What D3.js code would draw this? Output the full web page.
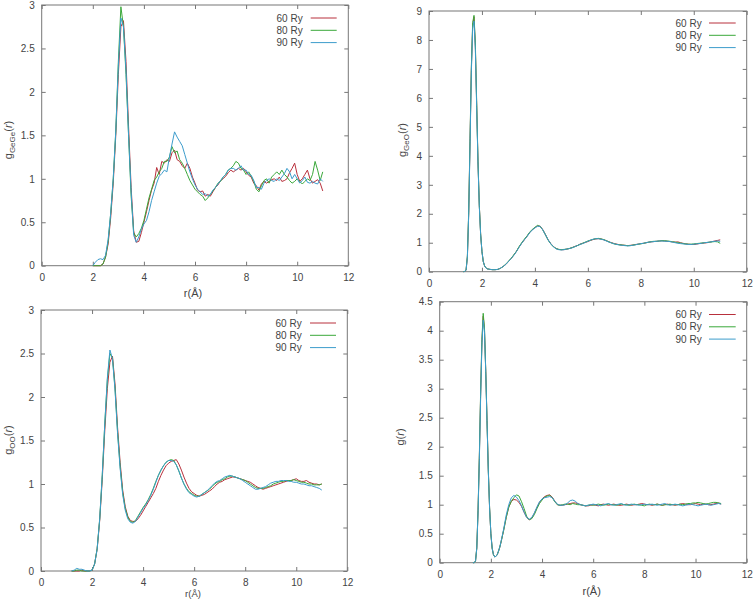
<!DOCTYPE html>
<html><head><meta charset="utf-8">
<script src="https://cdn.jsdelivr.net/npm/d3@7"></script>
<style>
html,body{margin:0;padding:0;background:#fff;}
text{font-family:"Liberation Sans",Arial,sans-serif;}
</style></head>
<body>
<svg id="chart" width="755" height="599"></svg>
<script>
// ---------- DATA ----------
const seriesNames = ["60 Ry", "80 Ry", "90 Ry"];
const seriesColors = ["#b8303c", "#3aa83a", "#3c9ccc"];

// Panel A: g_GeGe(r), r = 2.0 .. 11.0 step 0.1
const rGeGe = d3.range(20, 111).map(d => d / 10);
const geGe60 = [0,0,0,0,0.02,0.1,0.25,0.55,0.95,1.5,2.2,2.75,2.82,2.35,1.6,0.9,0.4,0.27,0.28,0.38,
 0.5,0.62,0.75,0.87,0.95,1.13,1.05,1.2,1.18,1.22,1.2,1.3,1.33,1.22,1.2,1.15,1.12,1.18,1.12,1.02,
 0.95,0.87,0.85,0.86,0.8,0.82,0.8,0.85,0.9,0.93,0.98,1.0,1.03,1.07,1.1,1.08,1.1,1.12,1.1,1.12,
 1.08,1.04,1.02,0.95,0.92,0.87,0.94,0.97,0.95,0.97,0.99,1.0,0.98,1.02,0.97,0.98,1.0,1.07,1.12,1.18,
 1.05,0.97,1.0,1.05,1.1,1.0,0.95,0.97,0.99,0.95,0.86];
const geGe80 = [0,0,0,0,0.02,0.1,0.28,0.6,1.0,1.55,2.35,2.98,2.75,2.2,1.5,0.8,0.38,0.33,0.37,0.43,
 0.52,0.65,0.78,0.88,0.98,1.02,1.08,1.12,1.2,1.2,1.25,1.37,1.3,1.32,1.22,1.18,1.12,1.05,0.98,0.93,
 0.88,0.85,0.82,0.8,0.75,0.78,0.82,0.86,0.9,0.95,0.97,1.02,1.05,1.1,1.12,1.15,1.2,1.18,1.12,1.1,
 1.05,1.08,1.03,0.97,0.88,0.85,0.92,0.98,1.0,0.95,1.02,1.05,1.08,1.05,1.1,1.05,1.02,0.98,0.95,0.97,
 1.0,0.97,0.94,0.97,1.0,0.98,1.05,1.2,1.1,0.98,1.08];
const geGe90 = [0,0.04,0.07,0.08,0.07,0.12,0.3,0.6,1.0,1.55,2.3,2.85,2.75,2.25,1.5,0.85,0.35,0.27,0.33,0.42,
 0.48,0.52,0.62,0.75,0.85,0.95,1.03,1.06,1.1,1.08,1.25,1.4,1.54,1.48,1.43,1.38,1.28,1.18,1.08,1.0,
 0.93,0.88,0.85,0.82,0.83,0.8,0.82,0.87,0.9,0.94,0.98,1.02,1.05,1.1,1.12,1.12,1.1,1.12,1.15,1.1,
 1.1,1.05,1.04,0.98,0.9,0.9,0.88,0.95,0.98,1.0,0.98,0.97,1.0,0.98,1.02,1.06,1.12,1.08,1.0,1.05,
 1.0,0.95,0.98,1.02,0.96,0.95,0.97,0.95,0.94,1.0,0.97];

// Panel B: g_GeO(r)
const rGeO = d3.range(130, 230, 5).map(d => d / 100).concat(d3.range(23, 111).map(d => d / 10));
const geO60 = [0,0.01,0.05,0.5,2.0,4.5,7.0,8.5,8.8,7.8,5.8,3.8,2.3,1.3,0.7,0.35,0.2,0.13,0.1,0.09,
 0.08,0.07,0.07,0.08,0.12,0.18,0.25,0.35,0.45,0.57,0.7,0.85,0.98,1.1,1.22,1.35,1.45,1.52,1.58,1.57,
 1.45,1.28,1.1,0.97,0.87,0.8,0.77,0.76,0.76,0.78,0.8,0.83,0.87,0.9,0.95,0.98,1.01,1.04,1.08,1.11,
 1.13,1.14,1.13,1.1,1.07,1.03,1.0,0.97,0.95,0.93,0.92,0.91,0.9,0.91,0.92,0.94,0.95,0.97,0.98,1.0,
 1.02,1.03,1.04,1.05,1.06,1.07,1.06,1.05,1.04,1.03,1.02,1.03,1.0,0.98,0.96,0.95,0.94,0.94,0.95,0.97,
 0.98,0.99,1.0,1.02,1.04,1.06,1.08,1.1];
const geO80 = [0,0.01,0.06,0.55,2.1,4.6,7.1,8.6,8.85,7.9,5.9,3.85,2.3,1.3,0.7,0.35,0.2,0.13,0.1,0.09,
 0.08,0.07,0.07,0.08,0.12,0.18,0.26,0.36,0.46,0.58,0.7,0.86,1.0,1.12,1.23,1.36,1.46,1.53,1.6,1.56,
 1.44,1.27,1.09,0.96,0.86,0.8,0.77,0.76,0.77,0.78,0.8,0.83,0.86,0.9,0.94,0.98,1.02,1.06,1.09,1.12,
 1.14,1.15,1.13,1.11,1.07,1.03,0.99,0.96,0.94,0.93,0.92,0.91,0.9,0.9,0.92,0.93,0.95,0.96,0.98,1.0,
 1.02,1.04,1.05,1.05,1.06,1.07,1.07,1.06,1.05,1.03,1.02,1.0,0.99,0.97,0.96,0.95,0.95,0.96,0.97,0.98,
 0.99,1.0,1.01,1.02,1.03,1.04,1.03,0.98];
const geO90 = [0,0.01,0.05,0.5,2.0,4.4,6.9,8.4,8.65,7.7,5.7,3.75,2.25,1.28,0.7,0.35,0.2,0.13,0.1,0.09,
 0.08,0.07,0.07,0.08,0.12,0.18,0.25,0.35,0.45,0.56,0.69,0.84,0.98,1.1,1.21,1.34,1.44,1.51,1.57,1.56,
 1.44,1.27,1.1,0.96,0.86,0.79,0.76,0.75,0.76,0.78,0.8,0.82,0.86,0.9,0.94,0.97,1.01,1.05,1.09,1.12,
 1.14,1.14,1.12,1.1,1.06,1.02,0.99,0.96,0.94,0.92,0.91,0.9,0.89,0.9,0.91,0.93,0.95,0.97,0.98,1.0,
 1.02,1.03,1.04,1.05,1.06,1.06,1.05,1.05,1.04,1.02,1.0,0.98,0.97,0.96,0.95,0.94,0.94,0.95,0.96,0.97,
 0.98,1.0,1.01,1.02,1.04,1.05,1.06,1.05];

// Panel C: g_OO(r), r = 1.2 .. 11.0 step 0.1
const rOO = d3.range(12, 111).map(d => d / 10);
const oo60 = [0,0,0,0,0.01,0,0,0,0.01,0.08,0.25,0.58,1.05,1.62,2.1,2.4,2.47,2.15,1.65,1.25,
 0.93,0.74,0.63,0.58,0.57,0.57,0.6,0.64,0.69,0.74,0.79,0.84,0.89,0.95,1.03,1.1,1.16,1.21,1.24,1.26,
 1.27,1.28,1.23,1.16,1.08,1.01,0.95,0.91,0.89,0.87,0.86,0.87,0.88,0.9,0.92,0.94,0.97,1.0,1.02,1.03,
 1.05,1.06,1.07,1.08,1.08,1.07,1.06,1.05,1.04,1.03,1.02,1.0,0.98,0.96,0.95,0.94,0.95,0.96,0.97,0.98,
 0.99,1.0,1.01,1.02,1.03,1.04,1.04,1.05,1.06,1.04,1.03,1.03,1.04,1.02,1.01,1.0,1.0,0.99,1.0];
const oo80 = [0,0,0.01,0.01,0,0,0,0,0.01,0.08,0.26,0.6,1.1,1.7,2.2,2.5,2.45,2.1,1.6,1.2,
 0.9,0.72,0.62,0.57,0.56,0.58,0.63,0.68,0.73,0.77,0.82,0.88,0.95,1.03,1.1,1.16,1.21,1.25,1.27,1.28,
 1.27,1.22,1.15,1.07,1.0,0.95,0.91,0.89,0.87,0.86,0.86,0.88,0.9,0.92,0.94,0.97,1.0,1.02,1.03,1.05,
 1.06,1.08,1.09,1.09,1.08,1.07,1.06,1.05,1.04,1.02,1.0,0.98,0.96,0.95,0.95,0.95,0.96,0.97,0.98,1.0,
 1.01,1.02,1.03,1.03,1.04,1.04,1.04,1.05,1.04,1.03,1.02,1.02,1.01,1.0,1.0,0.99,0.99,0.99,1.0];
const oo90 = [0,0.01,0.03,0.02,0.02,0.01,0,0,0.01,0.08,0.25,0.6,1.1,1.7,2.22,2.54,2.44,2.08,1.58,1.18,
 0.88,0.7,0.6,0.56,0.55,0.57,0.62,0.67,0.72,0.76,0.81,0.87,0.94,1.02,1.1,1.16,1.21,1.25,1.27,1.27,
 1.26,1.22,1.15,1.07,1.0,0.94,0.9,0.88,0.86,0.85,0.86,0.88,0.9,0.92,0.95,0.98,1.01,1.03,1.04,1.06,
 1.08,1.09,1.1,1.09,1.08,1.07,1.06,1.04,1.02,1.0,0.98,0.96,0.94,0.94,0.95,0.96,0.97,0.99,1.01,1.02,
 1.03,1.03,1.04,1.04,1.04,1.03,1.03,1.02,1.02,1.01,1.0,1.0,0.99,0.98,0.98,0.97,0.96,0.95,0.93];

// Panel D: total g(r)
const rTot = d3.range(130, 240, 5).map(d => d / 100).concat(d3.range(24, 111).map(d => d / 10));
const tot60 = [0,0,0.03,0.25,0.9,1.8,2.9,3.8,4.25,4.02,3.3,2.45,1.6,0.95,0.5,0.25,0.14,0.1,0.11,0.14,
 0.2,0.27,0.36,0.56,0.78,0.96,1.06,1.09,1.08,1.04,0.97,0.87,0.78,0.74,0.77,0.85,0.95,1.04,1.1,1.14,
 1.16,1.17,1.13,1.06,1.0,0.99,0.99,1.0,1.01,1.02,1.03,1.03,1.02,1.0,0.99,0.98,0.98,0.99,1.0,0.99,
 0.98,1.0,1.01,1.0,0.99,1.0,1.01,1.0,0.99,0.99,1.0,1.01,1.0,0.99,1.0,1.0,1.01,1.02,1.01,1.0,
 1.0,0.99,1.0,1.01,1.0,0.99,1.0,1.01,1.0,1.0,0.99,1.0,1.01,1.02,1.01,1.0,1.0,1.01,1.02,1.01,1.0,
 1.01,1.01,1.0,1.0,1.01,1.02,1.03,1.01,1.0];
const tot80 = [0,0,0.03,0.26,0.92,1.85,2.95,3.85,4.3,4.05,3.3,2.45,1.6,0.95,0.5,0.25,0.14,0.1,0.11,0.14,
 0.2,0.27,0.36,0.56,0.78,0.96,1.06,1.12,1.17,1.15,1.05,0.93,0.8,0.74,0.76,0.83,0.93,1.02,1.08,1.13,
 1.15,1.16,1.12,1.05,1.0,0.99,1.0,1.01,1.01,1.0,1.02,1.01,1.0,1.0,0.99,0.98,0.99,1.0,0.99,1.0,
 1.01,1.0,0.99,1.0,1.01,1.0,1.0,0.99,1.0,1.01,1.0,1.0,0.99,1.0,1.01,1.0,1.0,0.99,0.98,1.0,
 1.01,1.0,1.0,1.01,1.0,0.99,1.0,1.0,1.01,1.0,1.0,1.0,1.01,1.0,1.01,1.02,1.02,1.03,1.03,1.04,1.03,
 1.02,1.01,1.02,1.03,1.04,1.04,1.03,1.02,1.02];
const tot90 = [0,0,0.03,0.25,0.88,1.78,2.85,3.75,4.18,3.98,3.28,2.42,1.58,0.94,0.5,0.25,0.14,0.1,0.11,0.14,
 0.2,0.27,0.37,0.58,0.82,1.0,1.12,1.16,1.13,1.07,0.98,0.87,0.78,0.75,0.78,0.86,0.96,1.05,1.1,1.12,
 1.13,1.14,1.12,1.06,1.01,0.99,0.99,1.0,1.03,1.07,1.08,1.06,1.02,1.0,0.99,0.98,0.99,1.0,1.01,1.0,
 0.99,0.98,1.0,1.01,1.02,1.0,0.99,1.0,1.01,1.02,1.0,0.99,1.0,1.01,1.0,1.0,0.99,1.0,1.01,1.0,
 1.0,1.01,1.0,0.99,1.0,1.01,1.02,1.0,0.99,1.0,1.01,1.0,0.99,0.98,0.99,1.0,1.01,1.0,0.99,0.98,0.99,
 1.0,1.01,1.0,0.99,1.0,1.01,1.02,1.01,1.0];

const xTicks = [0, 2, 4, 6, 8, 10, 12];
const yTicksA = [0, 0.5, 1, 1.5, 2, 2.5, 3];
const yTicksB = [0, 1, 2, 3, 4, 5, 6, 7, 8, 9];
const yTicksC = [0, 0.5, 1, 1.5, 2, 2.5, 3];
const yTicksD = [0, 0.5, 1, 1.5, 2, 2.5, 3, 3.5, 4, 4.5];

// ---------- DRAW ----------
const svg = d3.select("#chart");
svg.append("rect").attr("width", 755).attr("height", 599).attr("fill", "#fff");

const panels = [
  {x0: 41.7, x1: 348.3, y0: 5, y1: 265.7, ymax: 3, yTicks: yTicksA, r: rGeGe, data: [geGe60, geGe80, geGe90],
   ylab: {x: 12, y: 140, main: "g", sub: "GeGe"}, xlab: {x: 193, y: 297, fs: 11},
   leg: {tx: 302.7, ty: 18, lx0: 310.7, lx1: 336.7}},
  {x0: 429, x1: 746.7, y0: 11, y1: 271.7, ymax: 9, yTicks: yTicksB, r: rGeO, data: [geO60, geO80, geO90],
   ylab: {x: 406, y: 140, main: "g", sub: "GeO"}, xlab: null,
   leg: {tx: 701.7, ty: 23, lx0: 709, lx1: 735.7}},
  {x0: 41, x1: 347.3, y0: 310, y1: 571, ymax: 3, yTicks: yTicksC, r: rOO, data: [oo60, oo80, oo90],
   ylab: {x: 12, y: 440, main: "g", sub: "OO"}, xlab: {x: 193, y: 596.5, fs: 9.5},
   leg: {tx: 301.7, ty: 323, lx0: 310, lx1: 336}},
  {x0: 439.7, x1: 746.7, y0: 301.7, y1: 562.7, ymax: 4.5, yTicks: yTicksD, r: rTot, data: [tot60, tot80, tot90],
   ylab: {x: 404, y: 437, main: "g", sub: null}, xlab: {x: 591.7, y: 595, fs: 11},
   leg: {tx: 701.7, ty: 314.5, lx0: 709, lx1: 735.7}}
];

const fmt = d => String(+d.toFixed(1));
const textCol = "#444";

panels.forEach(p => {
  const x = d3.scaleLinear().domain([0, 12]).range([p.x0, p.x1]);
  const y = d3.scaleLinear().domain([0, p.ymax]).range([p.y1, p.y0]);
  const g = svg.append("g");

  const styleAxis = (sel) => {
    sel.select(".domain").remove();
    sel.selectAll(".tick line").attr("stroke", "#777");
    sel.selectAll(".tick text").attr("fill", textCol).style("font-size", "10px")
      .style("font-family", "'Liberation Sans', Arial, sans-serif");
  };
  g.append("g").attr("transform", `translate(0,${p.y1})`)
    .call(d3.axisBottom(x).tickValues(xTicks).tickFormat(fmt).tickSize(-4).tickPadding(8)).call(styleAxis);
  g.append("g").attr("transform", `translate(0,${p.y0})`)
    .call(d3.axisTop(x).tickValues(xTicks).tickFormat("").tickSize(-4)).call(styleAxis);
  g.append("g").attr("transform", `translate(${p.x0},0)`)
    .call(d3.axisLeft(y).tickValues(p.yTicks).tickFormat(fmt).tickSize(-4).tickPadding(7)).call(styleAxis);
  g.append("g").attr("transform", `translate(${p.x1},0)`)
    .call(d3.axisRight(y).tickValues(p.yTicks).tickFormat("").tickSize(-4)).call(styleAxis);

  g.append("rect").attr("x", p.x0).attr("y", p.y0).attr("width", p.x1 - p.x0).attr("height", p.y1 - p.y0)
    .attr("fill", "none").attr("stroke", "#777").attr("stroke-width", 1);

  const line = d3.line().x((d, i) => x(p.r[i])).y(d => y(d));
  p.data.forEach((s, k) => {
    g.append("path").datum(s).attr("d", line).attr("fill", "none")
      .attr("stroke", seriesColors[k]).attr("stroke-width", 1).attr("stroke-linejoin", "round");
  });

  // legend
  seriesNames.forEach((nm, k) => {
    const yy = p.leg.ty + k * 12.3;
    g.append("text").attr("x", p.leg.tx).attr("y", yy).attr("text-anchor", "end")
      .attr("dy", "0.35em").attr("fill", textCol).style("font-size", "10px").text(nm);
    g.append("line").attr("x1", p.leg.lx0).attr("x2", p.leg.lx1).attr("y1", yy).attr("y2", yy)
      .attr("stroke", seriesColors[k]).attr("stroke-width", 1);
  });

  // y label
  const yl = g.append("text").attr("transform", `translate(${p.ylab.x},${p.ylab.y}) rotate(-90)`)
    .attr("text-anchor", "middle").attr("fill", textCol).style("font-size", "11px");
  yl.append("tspan").text(p.ylab.main);
  if (p.ylab.sub) yl.append("tspan").attr("dy", "3").style("font-size", "8px").text(p.ylab.sub);
  yl.append("tspan").attr("dy", p.ylab.sub ? "-3" : "0").text("(");
  yl.append("tspan").style("font-style", "italic").text("r");
  yl.append("tspan").text(")");

  if (p.xlab) {
    g.append("text").attr("x", p.xlab.x).attr("y", p.xlab.y).attr("text-anchor", "middle")
      .attr("fill", textCol).style("font-size", p.xlab.fs + "px").text("r(Å)");
  }
});
</script>
</body></html>
